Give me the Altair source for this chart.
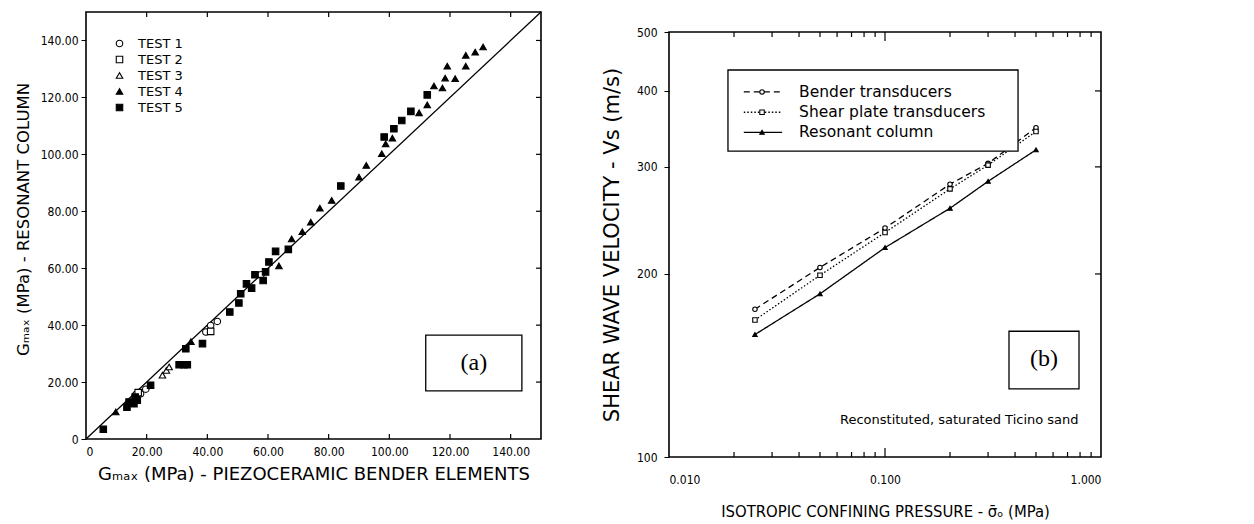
import altair as alt
import pandas as pd

# ---------------- panel (a): Gmax resonant column vs bender elements ----------------
tests = ["TEST 1", "TEST 2", "TEST 3", "TEST 4", "TEST 5"]
t1_x = [16.4, 18.0, 19.7, 39.5, 41.1, 43.3, 57.7]
t1_y = [15.6, 15.9, 17.5, 37.6, 39.9, 41.3, 57.7]
t2_x = [17.2, 41.1]
t2_y = [16.3, 37.8]
t3_x = [25.2, 26.5, 27.4]
t3_y = [22.4, 24.1, 25.3]
t4_x = [9.8, 34.6, 63.6, 67.8, 71.3, 74.1, 77.1, 81.0, 90.0, 92.4, 97.5, 98.8, 101.0,
        109.8, 112.5, 114.7, 117.5, 118.4, 121.7, 119.1, 125.2, 125.2, 128.3, 130.9]
t4_y = [9.5, 34.2, 60.8, 70.3, 72.8, 76.2, 81.1, 83.8, 92.0, 96.1, 100.2, 103.7, 105.7,
        114.6, 117.4, 124.0, 123.3, 126.8, 126.6, 131.0, 131.0, 134.8, 135.9, 137.7]
t5_x = [5.7, 13.5, 14.2, 15.8, 16.9, 16.2, 21.3, 30.7, 32.3, 33.4, 32.9, 38.4, 47.4, 50.4,
        51.0, 52.9, 54.6, 55.7, 58.4, 59.2, 60.3, 62.5, 66.7, 84.0, 98.3, 101.5, 104.1,
        107.1, 112.5]
t5_y = [3.4, 11.2, 13.0, 12.4, 13.6, 14.7, 18.9, 26.1, 26.1, 26.1, 31.7, 33.5, 44.6, 47.8,
        51.0, 54.5, 53.0, 57.7, 55.7, 58.7, 62.2, 65.9, 66.6, 88.9, 106.1, 109.0, 111.9,
        115.1, 120.9]
ticks_a = [0, 20, 40, 60, 80, 100, 120, 140]
line_a = [0, 150]

# ---------------- panel (b): shear wave velocity vs confining pressure ----------------
pressure = [0.025, 0.05, 0.1, 0.2, 0.3, 0.5]
bender_vs = [175, 205, 238, 281, 304, 348]
shear_vs = [168, 199, 234, 276, 302, 343]
resonant_vs = [159, 185.5, 221, 256.5, 284, 320]
series_b = ["Bender transducers", "Shear plate transducers", "Resonant column"]
ticks_b_x = [0.01, 0.1, 1.0]
minor_b_x = [0.02, 0.03, 0.04, 0.05, 0.06, 0.07, 0.08, 0.09,
             0.2, 0.3, 0.4, 0.5, 0.6, 0.7, 0.8, 0.9]
ticks_b_y = [100, 200, 300, 400, 500]

FONT = "DejaVu Sans Condensed, DejaVu Sans"
WIDE = "DejaVu Sans"
SERIF = "Liberation Serif"
WA, HA = 455, 427
WB, HB = 432, 425
FRAME = alt.ViewBackground(stroke="black", strokeWidth=1.6, fill="white")

# ---------- panel (a) ----------
rows = []
for name, xs, ys in zip(tests, [t1_x, t2_x, t3_x, t4_x, t5_x], [t1_y, t2_y, t3_y, t4_y, t5_y]):
    for x, y in zip(xs, ys):
        rows.append({"bender": x, "rc": y, "test": name})
df_a = pd.DataFrame(rows)

xa = alt.Scale(domain=[0, 150], nice=False, zero=False)
ya = alt.Scale(domain=[0, 150], nice=False, zero=False)
lab_a = "datum.value == 0 ? '0' : format(datum.value, '.2f')"

leg_a = alt.Legend(orient="none", legendX=27, legendY=25, title=None,
                   labelFont=WIDE, labelFontSize=13, labelColor="black",
                   symbolSize=42, symbolStrokeWidth=1.1,
                   rowPadding=2, labelOffset=12, padding=0)

diag = alt.Chart(pd.DataFrame({"bender": line_a, "rc": line_a})).mark_line(
    color="black", strokeWidth=1.3).encode(
    x=alt.X("bender:Q", scale=xa,
            axis=alt.Axis(values=ticks_a, labelExpr=lab_a, ticks=False, domain=False,
                          grid=False, labelPadding=7, labelFont=FONT, labelFontSize=12,
                          labelColor="black", title="Gₘₐₓ (MPa) - PIEZOCERAMIC BENDER ELEMENTS",
                          titleFont=WIDE, titleFontSize=18, titleFontWeight="normal",
                          titleColor="black", titlePadding=8)),
    y=alt.Y("rc:Q", scale=ya,
            axis=alt.Axis(values=ticks_a, labelExpr=lab_a, ticks=True, tickSize=5,
                          tickColor="black", domain=False, grid=False, labelPadding=3,
                          labelFont=FONT, labelFontSize=12, labelColor="black",
                          title="Gₘₐₓ (MPa) - RESONANT COLUMN", titleFont=WIDE,
                          titleFontSize=16.5, titleFontWeight="normal", titleColor="black",
                          titlePadding=9, titleY=207)),
)

pts_a = alt.Chart(df_a).mark_point(filled=True, size=42, strokeWidth=1.1, opacity=1).encode(
    x=alt.X("bender:Q", scale=xa),
    y=alt.Y("rc:Q", scale=ya),
    shape=alt.Shape("test:N", scale=alt.Scale(domain=tests,
                    range=["circle", "square", "triangle-up", "triangle-up", "square"]),
                    legend=leg_a),
    fill=alt.Fill("test:N", scale=alt.Scale(domain=tests,
                  range=["white", "white", "white", "black", "black"]), legend=leg_a),
    stroke=alt.Stroke("test:N", scale=alt.Scale(domain=tests, range=["black"] * 5),
                      legend=leg_a),
)

tick_df_a = pd.DataFrame({"bender": ticks_a[1:], "rc": ticks_a[1:]})
tb_a = alt.Chart(tick_df_a).mark_rule(color="black", strokeWidth=1.2).encode(
    x=alt.X("bender:Q", scale=xa), y=alt.value(HA), y2=alt.value(HA - 5))
tt_a = alt.Chart(tick_df_a).mark_rule(color="black", strokeWidth=1.2).encode(
    x=alt.X("bender:Q", scale=xa), y=alt.value(0), y2=alt.value(5))
tr_a = alt.Chart(tick_df_a).mark_rule(color="black", strokeWidth=1.2).encode(
    y=alt.Y("rc:Q", scale=ya), x=alt.value(WA), x2=alt.value(WA - 5))

box_a = alt.Chart(pd.DataFrame({"bender": [112.0], "x2": [143.7], "rc": [16.9], "y2": [36.5]})).mark_rect(
    fill="white", stroke="black", strokeWidth=1.3).encode(
    x=alt.X("bender:Q", scale=xa), x2="x2:Q",
    y=alt.Y("rc:Q", scale=ya), y2="y2:Q")
txt_a = alt.Chart(pd.DataFrame({"bender": [127.85], "rc": [26.7], "t": ["(a)"]})).mark_text(
    font=SERIF, fontSize=24, color="black", baseline="middle", align="center").encode(
    x=alt.X("bender:Q", scale=xa), y=alt.Y("rc:Q", scale=ya), text="t:N")

panel_a = alt.layer(diag, pts_a, tb_a, tt_a, tr_a, box_a, txt_a).properties(
    width=WA, height=HA, view=FRAME)

# ---------- panel (b) ----------
df_b = pd.DataFrame({
    "p": pressure * 3,
    "vs": bender_vs + shear_vs + resonant_vs,
    "s": [series_b[0]] * 6 + [series_b[1]] * 6 + [series_b[2]] * 6,
})
xb = alt.Scale(type="log", domain=[0.01, 1.0], nice=False)
yb = alt.Scale(type="log", domain=[100, 500], nice=False)
dash_scale = alt.Scale(domain=series_b, range=[[6, 4], [1.5, 2], [1, 0]])
shape_scale = alt.Scale(domain=series_b, range=["circle", "square", "triangle-up"])
fill_scale = alt.Scale(domain=series_b, range=["white", "white", "black"])

lines_b = alt.Chart(df_b).mark_line(color="black", strokeWidth=1.3).encode(
    x=alt.X("p:Q", scale=xb,
            axis=alt.Axis(values=ticks_b_x, format=".3f", ticks=False, domain=False, grid=False,
                          labelPadding=17, labelFont=FONT, labelFontSize=12, labelColor="black",
                          title="ISOTROPIC CONFINING PRESSURE - σ̄ₒ (MPa)", titleFont=FONT,
                          titleFontSize=16.5, titleFontWeight="normal", titleColor="black",
                          titlePadding=18)),
    y=alt.Y("vs:Q", scale=yb,
            axis=alt.Axis(values=ticks_b_y, format="d", ticks=True, tickSize=5, tickColor="black",
                          domain=False, grid=False, labelPadding=7, labelFont=FONT,
                          labelFontSize=12, labelColor="black",
                          title="SHEAR  WAVE  VELOCITY  -  Vs  (m/s)", titleFont=WIDE,
                          titleFontSize=21, titleFontWeight="normal", titleColor="black",
                          titlePadding=14)),
    strokeDash=alt.StrokeDash("s:N", scale=dash_scale, legend=None),
    detail="s:N",
)
pts_b = alt.Chart(df_b).mark_point(filled=True, size=20, strokeWidth=1.1, opacity=1).encode(
    x=alt.X("p:Q", scale=xb), y=alt.Y("vs:Q", scale=yb),
    shape=alt.Shape("s:N", scale=shape_scale, legend=None),
    fill=alt.Fill("s:N", scale=fill_scale, legend=None),
    stroke=alt.value("black"),
)

# manual legend (in data coordinates)
leg_box = alt.Chart(pd.DataFrame({"p": [0.01875], "x2": [0.413], "vs": [318.5], "y2": [433.0]})).mark_rect(
    fill="white", stroke="black", strokeWidth=1.3).encode(
    x=alt.X("p:Q", scale=xb), x2="x2:Q",
    y=alt.Y("vs:Q", scale=yb), y2="y2:Q")
leg_rows = pd.DataFrame({"s": series_b, "vs": [398.5, 369.0, 342.0],
                         "p": [0.0222] * 3, "x2": [0.0334] * 3, "xm": [0.02696] * 3,
                         "xt": [0.040] * 3})
leg_lines = alt.Chart(leg_rows).mark_rule(color="black", strokeWidth=1.3).encode(
    x=alt.X("p:Q", scale=xb), x2="x2:Q",
    y=alt.Y("vs:Q", scale=yb),
    strokeDash=alt.StrokeDash("s:N", scale=dash_scale, legend=None))
leg_pts = alt.Chart(leg_rows).mark_point(filled=True, size=20, strokeWidth=1.1, opacity=1).encode(
    x=alt.X("xm:Q", scale=xb), y=alt.Y("vs:Q", scale=yb),
    shape=alt.Shape("s:N", scale=shape_scale, legend=None),
    fill=alt.Fill("s:N", scale=fill_scale, legend=None),
    stroke=alt.value("black"))
leg_txt = alt.Chart(leg_rows).mark_text(font=WIDE, fontSize=15.5, color="black", align="left",
                                         baseline="middle").encode(
    x=alt.X("xt:Q", scale=xb), y=alt.Y("vs:Q", scale=yb), text="s:N")

note_b = alt.Chart(pd.DataFrame({"p": [0.0619], "vs": [115.0],
                                 "t": ["Reconstituted, saturated Ticino sand"]})).mark_text(
    font=WIDE, fontSize=13, color="black", align="left", baseline="middle").encode(
    x=alt.X("p:Q", scale=xb), y=alt.Y("vs:Q", scale=yb), text="t:N")

box_b = alt.Chart(pd.DataFrame({"p": [0.375], "x2": [0.791], "vs": [129.4], "y2": [161.0]})).mark_rect(
    fill="white", stroke="black", strokeWidth=1.3).encode(
    x=alt.X("p:Q", scale=xb), x2="x2:Q",
    y=alt.Y("vs:Q", scale=yb), y2="y2:Q")
txt_b = alt.Chart(pd.DataFrame({"p": [0.5446], "vs": [144.7], "t": ["(b)"]})).mark_text(
    font=SERIF, fontSize=24, color="black", baseline="middle", align="center").encode(
    x=alt.X("p:Q", scale=xb), y=alt.Y("vs:Q", scale=yb), text="t:N")

maj_df = pd.DataFrame({"p": ticks_b_x[1:2]})
min_df = pd.DataFrame({"p": minor_b_x})
ybt_df = pd.DataFrame({"vs": ticks_b_y[1:4]})
tb_maj = alt.Chart(maj_df).mark_rule(color="black", strokeWidth=1.2).encode(
    x=alt.X("p:Q", scale=xb), y=alt.value(HB), y2=alt.value(HB - 9))
tb_min = alt.Chart(min_df).mark_rule(color="black", strokeWidth=1.2).encode(
    x=alt.X("p:Q", scale=xb), y=alt.value(HB), y2=alt.value(HB - 5))
tt_maj = alt.Chart(maj_df).mark_rule(color="black", strokeWidth=1.2).encode(
    x=alt.X("p:Q", scale=xb), y=alt.value(0), y2=alt.value(9))
tt_min = alt.Chart(min_df).mark_rule(color="black", strokeWidth=1.2).encode(
    x=alt.X("p:Q", scale=xb), y=alt.value(0), y2=alt.value(5))
tr_b = alt.Chart(ybt_df).mark_rule(color="black", strokeWidth=1.2).encode(
    y=alt.Y("vs:Q", scale=yb), x=alt.value(WB), x2=alt.value(WB - 6))

panel_b = alt.layer(lines_b, pts_b, leg_box, leg_lines, leg_pts, leg_txt, note_b, box_b, txt_b,
                    tb_maj, tb_min, tt_maj, tt_min, tr_b).properties(
    width=WB, height=HB, view=FRAME)

# invisible spacer that lowers panel (b) relative to panel (a)
spacer = alt.Chart(pd.DataFrame({"p": [0]})).mark_point(opacity=0, size=1).encode(
    x=alt.value(5), y=alt.value(5)).properties(
    width=WB, height=13, view=alt.ViewBackground(stroke=None))

right = alt.vconcat(spacer, panel_b, spacing=0)

chart = alt.hconcat(panel_a, right, spacing=55).resolve_scale(
    shape="independent", fill="independent", stroke="independent", strokeDash="independent"
).properties(
    padding={"left": 6, "top": 0, "right": 5, "bottom": 0}
).configure_view(stroke=None).configure(background="white")

chart.save("out.html", embed_options={"renderer": "svg", "actions": False})
